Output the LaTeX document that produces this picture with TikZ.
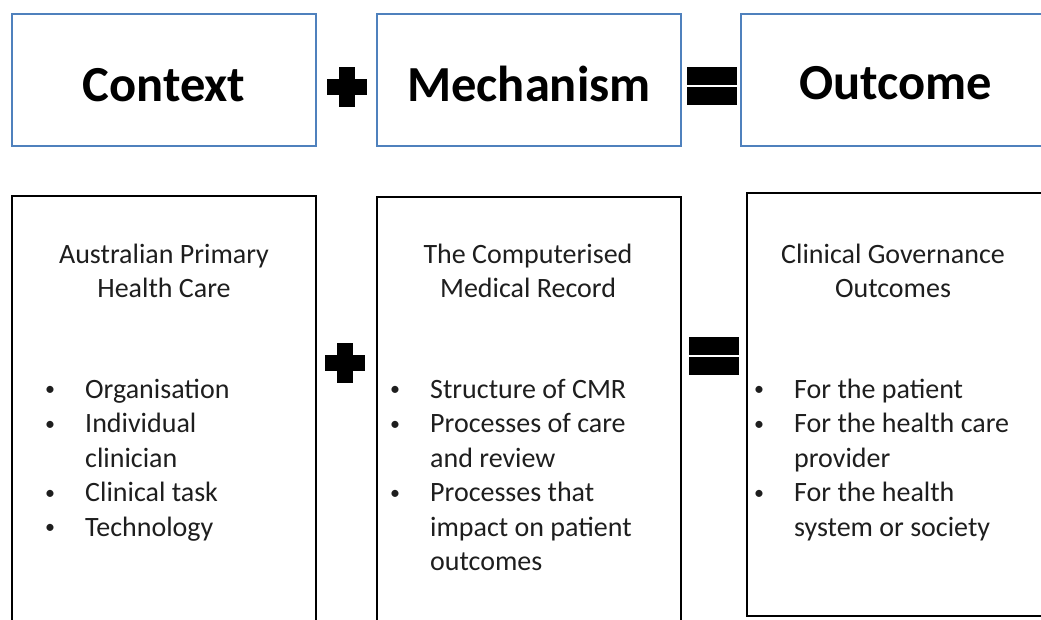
\documentclass[tikz,border=0pt]{standalone}
\usepackage{fontspec}
\setmainfont{Carlito}
\usetikzlibrary{calc}
\definecolor{boxblue}{RGB}{79,129,189}
\definecolor{bodygray}{RGB}{30,30,30}
\newcommand{\bul}{\makebox[42pt][l]{\hspace{2pt}\raisebox{2.5pt}{\fontsize{20}{20}\selectfont\textbullet}}}
\newcommand{\listindent}{\hspace*{42pt}}

\begin{document}
\begin{tikzpicture}[x=1pt,y=-1pt,
    topbox/.style={draw=boxblue,line width=2pt,minimum width=304pt,minimum height=132pt,inner sep=0pt},
    toptext/.style={font=\fontsize{50.5}{60}\selectfont\bfseries,anchor=base,inner sep=0pt},
    lowbox/.style={draw=black,line width=2.8pt},
    headtext/.style={font=\fontsize{28}{34}\selectfont,text=bodygray,align=center,anchor=base,inner sep=0pt},
    listtext/.style={font=\fontsize{28}{34.5}\selectfont,text=bodygray,align=left,anchor=base west,inner sep=0pt}]
    \useasboundingbox (0,0) rectangle (1041,619);
    \clip (0,0) rectangle (1041,619);

    % top row
    \node[topbox] (ctx) at (164,80) {};
    \node[topbox] (mech) at (529,80) {};
    \node[topbox] (out) at (893,80) {};
    \node[toptext] (ctxlabel) at (164,101) {Context};
    \node[toptext] (mechlabel) at (529,101) {Mechanism};
    \node[toptext] (outlabel) at (896,99) {Outcome};

    % lower row
    \draw[lowbox] (12,196) rectangle (316,640);
    \draw[lowbox] (377,197) rectangle (681,640);
    \draw[lowbox] (747,193) rectangle (1050,616);

    % base anchor sits on the last line
    \node[headtext] (ctxhead) at (164,297) {Australian Primary\\Health Care};
    \node[headtext] (mechhead) at (528,297) {The Computerised\\Medical Record};
    \node[headtext] (outhead) at (893,297) {Clinical Governance\\Outcomes};

    \node[listtext] (ctxlist) at (43,536) {\bul Organisation\\\bul Individual\\\listindent clinician\\\bul Clinical task\\\bul Technology};
    \node[listtext] (mechlist) at (388,570.5) {\bul Structure of CMR\\\bul Processes of care\\\listindent and review\\\bul Processes that\\\listindent impact on patient\\\listindent outcomes};
    \node[listtext] (outlist) at (752,536) {\bul For the patient\\\bul For the health care\\\listindent provider\\\bul For the health\\\listindent system or society};

    % plus signs
    \coordinate (P1) at (347,87);
    \coordinate (P2) at (345,363);
    \foreach \p in {P1,P2} {
      \fill ($(\p)+(-20,-8)$) rectangle ($(\p)+(20,8)$);
      \fill ($(\p)+(-8,-20)$) rectangle ($(\p)+(8,20)$);
    }

    % equals signs
    \coordinate (E1) at (712,86);
    \coordinate (E2) at (714,356);
    \foreach \e in {E1,E2} {
      \fill ($(\e)+(-25,-19)$) rectangle ($(\e)+(25,-1)$);
      \fill ($(\e)+(-25,1)$) rectangle ($(\e)+(25,19)$);
    }
\end{tikzpicture}
\end{document}
